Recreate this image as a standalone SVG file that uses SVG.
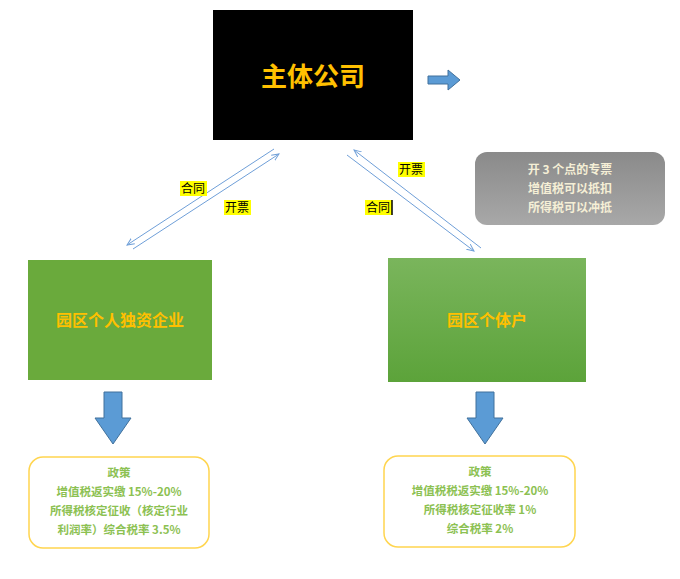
<svg xmlns="http://www.w3.org/2000/svg" width="680" height="579" viewBox="0 0 680 579">
<defs>
<style>
.cn{font-family:"Noto Sans CJK SC","Liberation Sans",sans-serif;font-weight:bold}
.lbl{font-family:"Noto Sans CJK SC","Liberation Sans",sans-serif;font-size:12px;fill:#000}
.pol{font-family:"Noto Sans CJK SC","Liberation Sans",sans-serif;font-size:11.5px;fill:#8cc152;font-weight:bold;text-anchor:middle}
.ln{stroke:#6f9fd8;stroke-width:1;fill:none;marker-end:url(#ah)}
.blue{fill:#5b9bd5;stroke:#41719c;stroke-width:1}
</style>
<marker id="ah" viewBox="0 0 10 10" refX="9" refY="5" markerWidth="8" markerHeight="8" orient="auto"><path d="M0,1 L9,5 L0,9" fill="none" stroke="#6f9fd8" stroke-width="1.2"/></marker>
<linearGradient id="gg" x1="0" y1="0" x2="0" y2="1"><stop offset="0" stop-color="#8a8a8a"/><stop offset="1" stop-color="#a8a8a8"/></linearGradient>
<linearGradient id="gr" x1="0" y1="0" x2="0" y2="1"><stop offset="0" stop-color="#7ab55c"/><stop offset="1" stop-color="#5ca33a"/></linearGradient>
</defs>
<rect width="680" height="579" fill="#fff"/>
<g id="main"><rect x="213" y="10" width="200" height="130" fill="#000"/><text x="313" y="86" class="cn" font-size="26" fill="#ffc000" text-anchor="middle">主体公司</text></g>
<g id="rightArrow"><path class="blue" d="M428,76 H448 V70 L460,80 L448,90 V84 H428 Z"/></g>
<g id="note"><rect x="475" y="152" width="190" height="73" rx="12" fill="url(#gg)"/><text class="cn" font-size="12" fill="#f5efd6" text-anchor="middle"><tspan x="570" y="174">开 3 个点的专票</tspan><tspan x="570" y="193">增值税可以抵扣</tspan><tspan x="570" y="212">所得税可以冲抵</tspan></text></g>
<g id="left"><rect x="28" y="260" width="184" height="120" fill="#6aaa3c"/><text x="120" y="326" class="cn" font-size="16" fill="#ffc000" text-anchor="middle">园区个人独资企业</text></g>
<g id="right"><rect x="388" y="258" width="198" height="124" fill="url(#gr)"/><text x="487" y="326" class="cn" font-size="16" fill="#ffc000" text-anchor="middle">园区个体户</text></g>
<g id="connectors">
<line class="ln" x1="274" y1="149" x2="127" y2="245"/>
<line class="ln" x1="133" y1="249" x2="279" y2="154"/>
<line class="ln" x1="481" y1="248" x2="354" y2="150"/>
<line class="ln" x1="347" y1="155" x2="474" y2="251"/>
</g>
<g id="labels">
<rect x="180" y="181" width="27" height="15" fill="#ff0"/><text x="181" y="193" class="lbl">合同</text>
<rect x="224" y="200" width="27" height="15" fill="#ff0"/><text x="225" y="212" class="lbl">开票</text>
<rect x="398" y="162" width="27" height="15" fill="#ff0"/><text x="399" y="174" class="lbl">开票</text>
<rect x="365" y="200" width="27" height="15" fill="#ff0"/><text x="366" y="212" class="lbl">合同</text>
<line x1="392" y1="200" x2="392" y2="215" stroke="#000" stroke-width="1.5"/>
</g>
<g id="downL"><path class="blue" d="M104,392 H122 V418 H131 L113,444 L95,418 H104 Z"/></g>
<g id="downR"><path class="blue" d="M476,392 H494 V418 H503 L485,444 L467,418 H476 Z"/></g>
<g id="polL"><rect x="29" y="457" width="180" height="91" rx="14" fill="#fff" stroke="#ffd54f" stroke-width="1.5"/><text class="pol"><tspan x="119" y="477">政策</tspan><tspan x="119" y="496">增值税返实缴 15%-20%</tspan><tspan x="119" y="515">所得税核定征收（核定行业</tspan><tspan x="119" y="534">利润率）综合税率 3.5%</tspan></text></g>
<g id="polR"><rect x="384" y="456" width="191" height="91" rx="14" fill="#fff" stroke="#ffd54f" stroke-width="1.5"/><text class="pol"><tspan x="480" y="476">政策</tspan><tspan x="480" y="495">增值税税返实缴 15%-20%</tspan><tspan x="480" y="514">所得税核定征收率 1%</tspan><tspan x="480" y="533">综合税率 2%</tspan></text></g>
</svg>
